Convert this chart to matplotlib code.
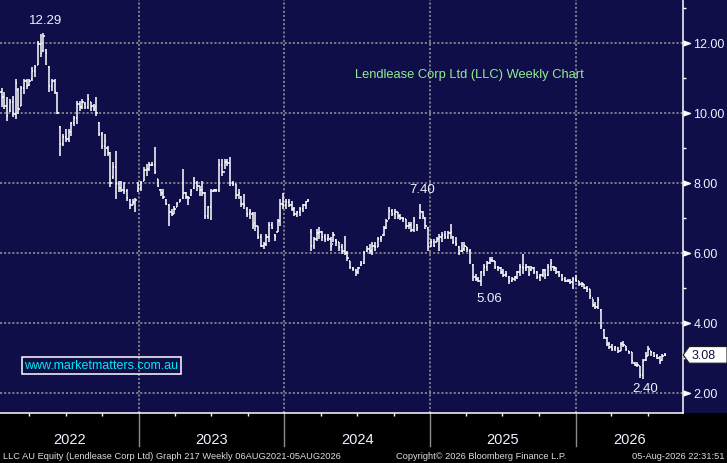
import matplotlib
matplotlib.use("Agg")
import matplotlib.pyplot as plt
import matplotlib.dates as mdates
import matplotlib.transforms as mtransforms
from matplotlib.collections import LineCollection
from matplotlib.patches import Rectangle, Polygon
import numpy as np
import pandas as pd

# weekly OHLC bars (A$)
first_week = "2022-01-21"
hi = [10.72, 10.60, 10.44, 10.39, 10.49, 10.96, 10.72, 10.77, 10.96, 10.96,
      10.96, 11.30, 11.35, 12.06, 12.25, 12.29, 11.82, 11.34, 10.96, 10.96,
      10.58, 9.63, 9.39, 9.53, 9.53, 9.73, 9.92, 10.34, 10.34, 10.39,
      10.30, 10.53, 10.30, 10.25, 10.44, 9.73, 9.44, 9.39, 9.06, 8.87,
      8.58, 8.92, 8.06, 8.06, 8.01, 7.82, 7.54, 7.54, 7.55, 8.01,
      8.06, 8.44, 8.53, 8.58, 8.58, 9.01, 8.11, 7.82, 7.82, 7.54,
      7.39, 7.25, 7.34, 7.44, 7.54, 8.39, 7.73, 7.63, 7.82, 8.15,
      8.06, 7.92, 8.06, 7.73, 7.34, 7.82, 7.82, 7.82, 8.68, 8.68,
      8.68, 8.68, 8.73, 8.06, 7.96, 7.82, 7.62, 7.68, 7.30, 7.25,
      7.15, 7.15, 6.77, 6.53, 6.30, 6.53, 6.87, 6.87, 6.53, 6.96,
      7.53, 7.72, 7.53, 7.53, 7.49, 7.30, 7.20, 7.30, 7.39, 7.49,
      7.53, 6.68, 6.44, 6.68, 6.72, 6.63, 6.53, 6.53, 6.44, 6.58,
      6.39, 6.30, 6.25, 6.49, 6.06, 5.77, 5.58, 5.53, 5.58, 5.77,
      6.06, 6.20, 6.25, 6.30, 6.30, 6.44, 6.49, 6.77, 6.96, 7.30,
      7.25, 7.25, 7.15, 7.10, 7.01, 6.96, 6.87, 6.87, 7.01, 6.82,
      7.40, 7.20, 7.01, 6.72, 6.39, 6.39, 6.44, 6.53, 6.58, 6.63,
      6.63, 6.82, 6.49, 6.44, 6.20, 6.30, 6.30, 6.15, 6.10, 5.68,
      5.39, 5.30, 5.49, 5.68, 5.77, 5.87, 5.87, 5.77, 5.63, 5.58,
      5.53, 5.49, 5.34, 5.30, 5.34, 5.49, 5.68, 5.96, 5.68, 5.63,
      5.63, 5.58, 5.49, 5.39, 5.53, 5.53, 5.68, 5.82, 5.63, 5.58,
      5.49, 5.39, 5.30, 5.25, 5.25, 5.30, 5.36, 5.20, 5.15, 5.11,
      5.06, 4.96, 4.68, 4.58, 4.72, 4.39, 3.82, 3.58, 3.44, 3.39,
      3.34, 3.30, 3.44, 3.49, 3.34, 3.20, 3.15, 2.87, 2.87, 2.77,
      2.95, 3.15, 3.34, 3.20, 3.15, 3.11, 3.06, 3.11, 3.13]
lo = [10.15, 10.10, 9.77, 10.01, 9.87, 9.82, 9.96, 10.20, 10.53, 10.68,
      10.77, 10.92, 11.01, 11.35, 11.58, 11.73, 11.35, 10.58, 10.63, 10.53,
      9.96, 8.77, 9.06, 9.15, 9.15, 9.34, 9.63, 9.68, 10.06, 10.11,
      10.11, 10.11, 10.06, 10.06, 9.92, 9.34, 8.96, 8.77, 8.77, 7.87,
      8.11, 7.54, 7.73, 7.73, 7.68, 7.49, 7.25, 7.35, 7.15, 7.73,
      7.77, 8.06, 8.20, 8.34, 8.49, 8.25, 7.87, 7.63, 7.54, 7.35,
      6.77, 7.06, 7.10, 7.30, 7.44, 7.54, 7.54, 7.35, 7.63, 7.82,
      7.77, 7.63, 7.63, 6.96, 6.96, 6.92, 7.73, 7.73, 7.73, 8.20,
      8.40, 8.49, 7.92, 7.92, 7.54, 7.54, 7.32, 7.25, 7.03, 6.96,
      6.68, 6.63, 6.39, 6.15, 6.10, 6.20, 6.30, 6.68, 6.34, 6.58,
      6.77, 7.25, 7.25, 7.30, 7.20, 7.06, 7.01, 7.06, 7.15, 7.25,
      7.45, 6.06, 6.10, 6.34, 6.39, 6.34, 6.30, 6.34, 6.06, 6.30,
      6.20, 6.06, 5.96, 5.92, 5.77, 5.53, 5.49, 5.34, 5.39, 5.63,
      5.68, 6.01, 5.96, 5.92, 6.06, 6.15, 6.30, 6.49, 6.68, 6.96,
      7.06, 6.96, 6.96, 6.92, 6.87, 6.68, 6.68, 6.58, 6.58, 6.63,
      6.96, 6.96, 6.68, 6.06, 6.15, 6.15, 6.30, 6.06, 6.30, 6.39,
      6.39, 6.39, 6.25, 6.20, 5.92, 6.01, 6.06, 6.01, 5.68, 5.20,
      5.20, 5.15, 5.06, 5.34, 5.49, 5.68, 5.72, 5.53, 5.49, 5.39,
      5.30, 5.30, 5.11, 5.15, 5.20, 5.25, 5.34, 5.39, 5.49, 5.34,
      5.49, 5.39, 5.25, 5.20, 5.30, 5.25, 5.34, 5.49, 5.49, 5.39,
      5.30, 5.20, 5.15, 5.15, 5.11, 4.96, 5.15, 5.04, 5.01, 4.96,
      4.87, 4.68, 4.44, 4.39, 4.39, 3.82, 3.53, 3.34, 3.25, 3.20,
      3.20, 3.13, 3.20, 3.30, 3.20, 3.11, 2.82, 2.77, 2.72, 2.42,
      2.40, 2.91, 3.06, 3.06, 3.01, 2.96, 2.82, 2.91, 3.06]
op = [10.60, 10.45, 10.20, 10.05, 10.30, 9.95, 10.65, 10.20, 10.70, 10.90,
      10.80, 10.95, 11.20, 11.35, 11.95, 11.75, 11.80, 11.30, 10.75, 10.90,
      10.55, 9.60, 9.10, 9.30, 9.25, 9.45, 9.70, 9.85, 10.25, 10.15,
      10.25, 10.15, 10.30, 10.20, 10.15, 9.70, 9.40, 9.05, 9.00, 8.85,
      8.15, 8.45, 7.95, 7.85, 7.80, 7.75, 7.50, 7.35, 7.45, 7.75,
      7.85, 8.05, 8.35, 8.40, 8.50, 8.50, 8.10, 7.80, 7.70, 7.50,
      7.35, 7.15, 7.10, 7.30, 7.45, 7.55, 7.70, 7.60, 7.65, 7.85,
      8.00, 7.90, 7.80, 7.70, 7.05, 7.30, 7.75, 7.78, 7.80, 8.50,
      8.30, 8.60, 8.55, 8.00, 7.95, 7.65, 7.60, 7.40, 7.25, 7.10,
      7.10, 6.85, 6.75, 6.45, 6.20, 6.25, 6.45, 6.80, 6.50, 6.60,
      6.90, 7.40, 7.35, 7.45, 7.35, 7.25, 7.10, 7.15, 7.25, 7.35,
      7.47, 6.60, 6.20, 6.40, 6.55, 6.60, 6.45, 6.40, 6.40, 6.25,
      6.35, 6.30, 6.15, 6.05, 6.00, 5.75, 5.55, 5.50, 5.45, 5.65,
      5.70, 6.05, 6.10, 6.05, 6.20, 6.15, 6.40, 6.50, 6.70, 6.95,
      7.20, 7.10, 7.15, 7.05, 7.00, 6.95, 6.75, 6.80, 6.65, 6.80,
      7.00, 7.15, 7.00, 6.70, 6.20, 6.30, 6.30, 6.40, 6.45, 6.50,
      6.45, 6.55, 6.45, 6.30, 6.15, 6.05, 6.10, 6.15, 6.05, 5.65,
      5.30, 5.25, 5.20, 5.45, 5.60, 5.70, 5.80, 5.75, 5.60, 5.55,
      5.45, 5.35, 5.30, 5.20, 5.25, 5.30, 5.45, 5.60, 5.55, 5.60,
      5.50, 5.55, 5.45, 5.30, 5.35, 5.50, 5.35, 5.60, 5.60, 5.55,
      5.45, 5.35, 5.25, 5.20, 5.20, 5.15, 5.25, 5.20, 5.10, 5.10,
      5.00, 4.95, 4.70, 4.50, 4.45, 4.35, 3.80, 3.55, 3.40, 3.30,
      3.25, 3.28, 3.20, 3.40, 3.33, 3.20, 3.15, 2.85, 2.80, 2.75,
      2.50, 2.92, 3.05, 3.20, 3.12, 3.05, 3.00, 2.92, 3.08]
cl = [10.45, 10.20, 9.90, 10.30, 9.95, 10.85, 10.10, 10.70, 10.90, 10.75,
      10.90, 11.20, 11.30, 11.95, 11.70, 12.20, 11.70, 10.75, 10.90, 10.60,
      10.00, 9.10, 9.30, 9.25, 9.45, 9.70, 9.85, 10.25, 10.15, 10.30,
      10.15, 10.40, 10.20, 10.10, 10.00, 9.40, 9.05, 9.20, 8.85, 8.00,
      8.45, 7.95, 7.85, 7.80, 7.75, 7.55, 7.35, 7.45, 7.50, 7.85,
      8.00, 8.35, 8.40, 8.50, 8.52, 8.30, 7.90, 7.70, 7.60, 7.40,
      7.15, 7.10, 7.25, 7.40, 7.50, 7.70, 7.60, 7.55, 7.75, 8.05,
      7.90, 7.80, 7.70, 7.05, 7.30, 7.75, 7.78, 7.80, 8.50, 8.30,
      8.60, 8.55, 8.00, 7.95, 7.65, 7.70, 7.40, 7.35, 7.10, 7.15,
      6.80, 6.75, 6.45, 6.20, 6.25, 6.45, 6.80, 6.70, 6.45, 6.90,
      7.40, 7.35, 7.45, 7.35, 7.25, 7.10, 7.15, 7.25, 7.35, 7.45,
      7.50, 6.20, 6.40, 6.55, 6.60, 6.45, 6.40, 6.45, 6.20, 6.50,
      6.30, 6.15, 6.05, 6.00, 5.85, 5.60, 5.52, 5.45, 5.55, 5.70,
      6.00, 6.10, 6.05, 6.20, 6.15, 6.40, 6.45, 6.70, 6.90, 7.20,
      7.10, 7.15, 7.05, 7.00, 6.95, 6.75, 6.80, 6.65, 6.90, 6.70,
      7.20, 7.05, 6.75, 6.20, 6.30, 6.20, 6.40, 6.45, 6.50, 6.45,
      6.55, 6.60, 6.30, 6.25, 6.00, 6.05, 6.20, 6.10, 5.75, 5.30,
      5.25, 5.20, 5.45, 5.60, 5.70, 5.80, 5.75, 5.60, 5.55, 5.45,
      5.35, 5.40, 5.20, 5.25, 5.30, 5.45, 5.60, 5.55, 5.60, 5.40,
      5.55, 5.45, 5.30, 5.35, 5.50, 5.35, 5.60, 5.70, 5.55, 5.45,
      5.35, 5.25, 5.20, 5.20, 5.15, 5.25, 5.20, 5.10, 5.10, 5.00,
      4.95, 4.75, 4.50, 4.45, 4.65, 3.90, 3.60, 3.40, 3.30, 3.25,
      3.30, 3.20, 3.40, 3.35, 3.25, 3.15, 2.90, 2.80, 2.78, 2.50,
      2.90, 3.05, 3.25, 3.15, 3.05, 3.00, 2.90, 3.05, 3.08]

# bars that carry a price note on the chart
peak_bars = [15, 150]
trough_bars = [172, 230]

year_labels = ["2022", "2023", "2024", "2025", "2026"]
year_starts = ["2023-01-01", "2024-01-01", "2025-01-01", "2026-01-01"]
price_ticks = [2, 4, 6, 8, 10, 12]
price_minor = [3, 5, 7, 9, 11, 13]
chart_title = "Lendlease Corp Ltd (LLC) Weekly Chart"
web_text = "www.marketmatters.com.au"
footer_left = "LLC AU Equity (Lendlease Corp Ltd) Graph 217 Weekly 06AUG2021-05AUG2026"
footer_mid = "Copyright\u00a9 2026 Bloomberg Finance L.P."
footer_right = "05-Aug-2026 22:31:51"

navy = "#100e48"
txt = "#eef2ff"
sans = ["Liberation Sans", "DejaVu Sans"]

dates = pd.date_range(first_week, periods=len(cl), freq="7D")
x = mdates.date2num(dates)

fig = plt.figure(figsize=(7.27, 4.64), dpi=100)
fig.patch.set_facecolor("black")
ax_pos = [0, 0.1071, 0.9391, 0.8929]
fig.add_artist(Rectangle((0, ax_pos[1]), 1, ax_pos[3], transform=fig.transFigure,
                         facecolor=navy, edgecolor="none", zorder=-5))
ax = fig.add_axes(ax_pos)
ax.set_facecolor(navy)

x0 = mdates.date2num(pd.Timestamp("2022-01-17"))
x1 = mdates.date2num(pd.Timestamp("2026-09-27"))
ax.set_xlim(x0, x1)
ax.set_ylim(1.41, 13.25)

# OHLC bars
t = 3.0
segs = []
for i in range(len(cl)):
    segs.append([(x[i], lo[i]), (x[i], hi[i])])
    segs.append([(x[i] - t, op[i]), (x[i], op[i])])
    segs.append([(x[i], cl[i]), (x[i] + t, cl[i])])
ax.add_collection(LineCollection(segs, colors="white", linewidths=1.1,
                                 capstyle="butt", zorder=3))

# spines
for s in ["top", "left"]:
    ax.spines[s].set_visible(False)
for s in ["right", "bottom"]:
    ax.spines[s].set_color("white")
    ax.spines[s].set_linewidth(1.1)

# y axis on the right
ax.yaxis.tick_right()
ax.set_yticks(price_ticks)
ax.set_yticklabels([f"{v:.2f}" for v in price_ticks])
ax.set_yticks(price_minor, minor=True)
ax.tick_params(axis="y", which="major", length=0, pad=7.6, labelcolor=txt,
               labelsize=9.0)
ax.tick_params(axis="y", which="minor", length=2.5, width=1, color="white")
for lab in ax.get_yticklabels():
    lab.set_family(sans)

# x axis: year boundaries + quarter ticks
ys = mdates.date2num(pd.to_datetime(year_starts))
ax.set_xticks(ys)
ax.set_xticklabels([])
ax.xaxis.set_minor_locator(mdates.MonthLocator(bymonth=[1, 4, 7, 10]))
ax.tick_params(axis="x", which="major", length=0)
ax.tick_params(axis="x", which="minor", length=2.4, width=1, color="white")

ax.set_axisbelow(True)
ax.grid(True, which="major", color="#9a9a9a", linestyle=(0, (1.35, 1.35)),
        linewidth=1.1)

# price pointers on the right axis
ytr = mtransforms.blended_transform_factory(ax.transAxes, ax.transData)
ax.plot(np.ones(len(price_ticks)), price_ticks, transform=ytr, ls="none",
        marker=[(0, -0.35), (1, 0), (0, 0.35)], ms=10, color="white",
        clip_on=False, zorder=5)

# footer: year separators and labels
xft = mtransforms.blended_transform_factory(ax.transData, fig.transFigure)
for xs in ys:
    ax.plot([xs, xs], [ax_pos[1], 0.0366], transform=xft, color="#8c8c8c",
            lw=1.0, clip_on=False)
bounds = [x0] + list(ys) + [x1]
for k, lab in enumerate(year_labels):
    ax.text((bounds[k] + bounds[k + 1]) / 2, 0.0517, lab, transform=xft,
            ha="center", va="center", fontsize=10.5, color=txt, family=sans)

fig.text(0.004, 0.016, footer_left, ha="left", va="center", fontsize=6.7,
         color="#dcdcdc", family=sans)
fig.text(0.545, 0.016, footer_mid, ha="left", va="center", fontsize=6.7,
         color="#dcdcdc", family=sans)
fig.text(0.997, 0.016, footer_right, ha="right", va="center", fontsize=6.7,
         color="#dcdcdc", family=sans)

# price notes
for i, dx, dy in zip(peak_bars, [1.8, 1.7], [9.2, 10.6]):
    ax.annotate(f"{hi[i]:.2f}", xy=(x[i], hi[i]), xytext=(dx, dy),
                textcoords="offset points", ha="center", va="center",
                fontsize=9.5, color=txt, family=sans)
for i, dx, dy in zip(trough_bars, [5.8, 1.8], [-8.9, -6.7]):
    ax.annotate(f"{lo[i]:.2f}", xy=(x[i], lo[i]), xytext=(dx, dy),
                textcoords="offset points", ha="center", va="center",
                fontsize=9.5, color=txt, family=sans)

fig.text(0.645, 0.838, chart_title, ha="center", va="center", fontsize=9.3,
         color="#90ee90", family=sans)
fig.text(0.139, 0.211, web_text, ha="center", va="center", fontsize=9,
         color="#00e8f0", family=sans,
         bbox=dict(boxstyle="square,pad=0.2", fc="none", ec="white", lw=1.1))

# last price tag
disp = ax.transData.transform((x[-1], cl[-1]))
fx, fy = fig.transFigure.inverted().transform(disp)
W, H = 727.0, 464.0
xa = ax_pos[0] + ax_pos[2]
hh = 8.3 / H
tag = Polygon([(xa + 0.5 / W, fy), (xa + 6.5 / W, fy + hh), (1.0, fy + hh),
               (1.0, fy - hh), (xa + 6.5 / W, fy - hh)], closed=True,
              transform=fig.transFigure, facecolor="white", edgecolor="#202020",
              lw=0.8, zorder=6)
fig.add_artist(tag)
fig.text(xa + 9 / W, fy, f"{cl[-1]:.2f}", ha="left", va="center", fontsize=9.0,
         color="#101040", family=sans, zorder=7)

fig.savefig("out.png", dpi=100, facecolor=fig.get_facecolor())
